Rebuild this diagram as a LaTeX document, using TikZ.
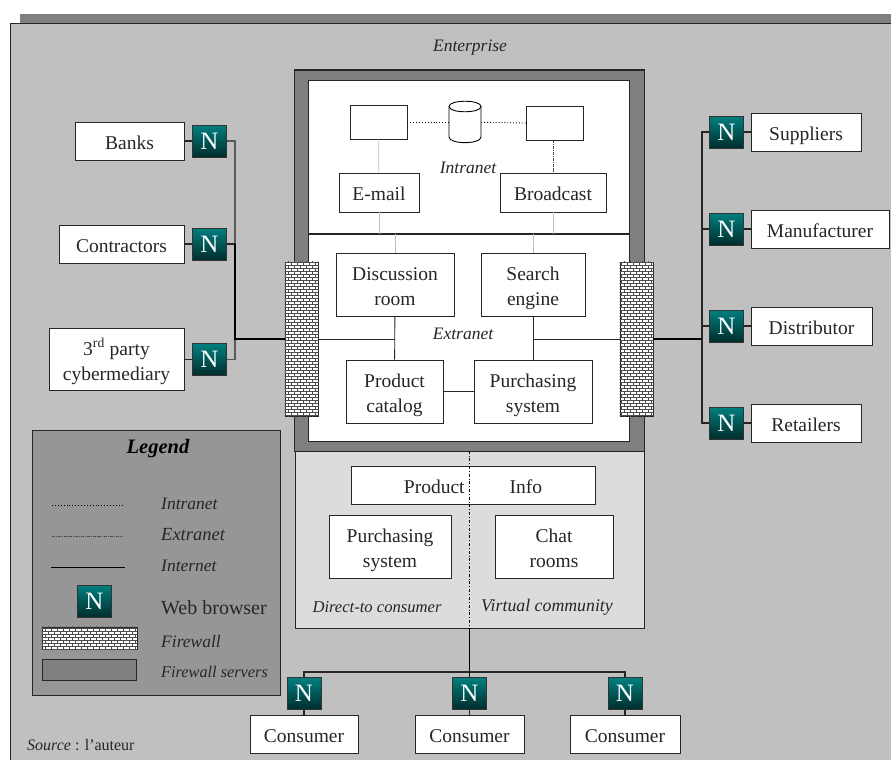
\documentclass[tikz,border=0pt]{standalone}
\usepackage{fontspec}
\setmainfont{Liberation Serif}
\usetikzlibrary{patterns}

\pgfdeclarepatternformonly{fwbricks}{\pgfqpoint{-0.5pt}{-0.5pt}}{\pgfqpoint{6.5pt}{6.5pt}}{\pgfqpoint{6pt}{6pt}}{
    \pgfsetlinewidth{0.6pt}
    \pgfpathmoveto{\pgfqpoint{0pt}{0pt}}\pgfpathlineto{\pgfqpoint{6pt}{0pt}}
    \pgfpathmoveto{\pgfqpoint{0pt}{3pt}}\pgfpathlineto{\pgfqpoint{6pt}{3pt}}
    \pgfpathmoveto{\pgfqpoint{0pt}{0pt}}\pgfpathlineto{\pgfqpoint{0pt}{3pt}}
    \pgfpathmoveto{\pgfqpoint{3pt}{3pt}}\pgfpathlineto{\pgfqpoint{3pt}{6pt}}
    \pgfusepath{stroke}
}

\definecolor{bggray}{HTML}{C0C0C0}
\definecolor{srvgray}{HTML}{808080}
\definecolor{panelgray}{HTML}{DCDCDC}
\definecolor{legendgray}{HTML}{969696}
\definecolor{inkgray}{HTML}{262626}

\tikzset{
    infobox/.style={draw=inkgray,line width=0.9pt,fill=white,text=inkgray,align=center,inner sep=0pt,
        font=\fontsize{19.5}{25}\selectfont,execute at begin node={\rule{0pt}{23pt}},execute at end node={\rule[-7pt]{0pt}{7pt}}},
    twoline/.style={infobox,execute at begin node={\rule{0pt}{48pt}}},
    blankbox/.style={draw=inkgray,line width=0.9pt,fill=white,inner sep=0pt},
    ntile/.style={draw=black!80,line width=0.9pt,top color=teal!100!black,bottom color=teal!35!black,
        text=white,inner sep=0pt,minimum width=34pt,minimum height=32pt,font=\fontsize{25}{25}\selectfont},
    fwall/.style={draw=inkgray,line width=0.7pt,fill=white,inner sep=0pt},
    italabel/.style={text=inkgray,inner sep=0pt,font=\fontsize{17.5}{20}\selectfont\itshape},
    innerline/.style={draw=inkgray,line width=0.9pt},
    netline/.style={draw=inkgray,line width=1.1pt},
    mainline/.style={draw=black,line width=1.6pt},
    sideline/.style={draw=black!65,line width=1.3pt},
    paleline/.style={draw=black!25,line width=0.7pt},
    intraline/.style={draw=black,line width=0.9pt,dotted},
    extraline/.style={draw=black!70,line width=0.8pt,densely dashdotted}
}

\begin{document}
\begin{tikzpicture}[x=1pt,y=-1pt]
    \useasboundingbox (0,0) rectangle (891,760);
    \fill[white] (0,0) rectangle (891,760);

    % page
    \fill[srvgray] (20,14) rectangle (891,25);
    \fill[bggray] (10,24) rectangle (891,760);
    \draw[inkgray,line width=1pt] (10,760) -- (10,24) -- (891,24);
    \node[italabel] (enterprise) at (470,48) {Enterprise};

    % firewall servers and lower panel
    \node[draw=inkgray,line width=1pt,fill=srvgray,minimum width=350pt,minimum height=381pt,inner sep=0pt] (servers) at (469,260.5) {};
    \node[draw=inkgray,line width=1pt,fill=white,minimum width=321pt,minimum height=361pt,inner sep=0pt] (inner) at (468.5,260.5) {};
    \node[draw=inkgray,line width=1pt,fill=panelgray,minimum width=349pt,minimum height=177pt,inner sep=0pt] (lowpanel) at (469.5,539.5) {};
    \coordinate (midl) at (308,234);
    \coordinate (midr) at (629,234);
    \draw[inkgray,line width=1.2pt] (midl) -- (midr);
    \node[fwall,minimum width=33pt,minimum height=154pt] (fwleft) at (301.5,339) {};
    \node[fwall,minimum width=33pt,minimum height=154pt] (fwright) at (636.5,339) {};
    \fill[pattern=fwbricks,pattern color=black!70] (fwleft.south west) rectangle (fwleft.north east);
    \fill[pattern=fwbricks,pattern color=black!70] (fwright.south west) rectangle (fwright.north east);

    % intranet
    \node[blankbox,minimum width=57pt,minimum height=34pt] (mailsrv) at (378.5,122) {};
    \node[blankbox,minimum width=57pt,minimum height=34pt] (castsrv) at (554.5,123) {};
    \node[minimum width=32pt,minimum height=42pt,inner sep=0pt] (database) at (465,122) {};
    \draw[black,line width=0.9pt,fill=white] (449,106.5) .. controls (449,99.5) and (481,99.5) .. (481,106.5)
        -- (481,137) .. controls (481,144.5) and (449,144.5) .. (449,137) -- cycle;
    \draw[black,line width=0.9pt] (449,106.5) .. controls (449,113.5) and (481,113.5) .. (481,106.5);
    \node[infobox,minimum width=80pt,minimum height=39pt] (email) at (379,192.5) {E-mail};
    \node[infobox,minimum width=106pt,minimum height=39pt] (broadcast) at (553,192.5) {Broadcast};
    \node[italabel] (intranet) at (468,168) {Intranet};

    % extranet
    \node[twoline,minimum width=118pt,minimum height=63pt] (discussion) at (395,284.5) {Discussion\\room};
    \node[twoline,minimum width=104pt,minimum height=63pt] (search) at (533,284.5) {Search\\engine};
    \node[twoline,minimum width=97pt,minimum height=63pt] (catalog) at (394.5,391.5) {Product\\catalog};
    \node[twoline,minimum width=118pt,minimum height=63pt] (purchasing) at (533,391.5) {Purchasing\\system};
    \node[italabel] (extranet) at (463,334) {Extranet};
    \coordinate (jextl) at (395,339);
    \coordinate (jextr) at (533,339);

    % lower panel
    \node[infobox,minimum width=244pt,minimum height=38pt] (prodinfo) at (473,485) {Product\hspace{45pt}Info};
    \node[twoline,minimum width=122pt,minimum height=63pt] (purchdirect) at (390,546.5) {Purchasing\\system};
    \node[twoline,minimum width=118pt,minimum height=63pt] (chat) at (554,546.5) {Chat\\rooms};
    \node[italabel,font=\fontsize{16.6}{20}\selectfont\itshape] (direct) at (377,607) {Direct-to consumer};
    \node[italabel,font=\fontsize{17.8}{20}\selectfont\itshape] (virtual) at (547,607) {Virtual community};

    % partners
    \node[infobox,minimum width=109pt,minimum height=38pt] (banks) at (129.5,141) {Banks};
    \node[infobox,minimum width=125pt,minimum height=38pt] (contractors) at (121.5,244) {Contractors};
    \node[twoline,minimum width=135pt,minimum height=62pt] (cyber) at (116.5,359.5) {3\textsuperscript{rd} party\\cybermediary};
    \node[ntile] (nbanks) at (209.5,141) {N};
    \node[ntile] (ncontractors) at (209.5,244) {N};
    \node[ntile] (ncyber) at (209.5,359.5) {N};
    \coordinate (jleft) at (235,339);

    \node[infobox,minimum width=110pt,minimum height=38pt] (suppliers) at (806,132) {Suppliers};
    \node[infobox,minimum width=138pt,minimum height=38pt] (manufacturer) at (820,229) {Manufacturer};
    \node[infobox,minimum width=121pt,minimum height=38pt] (distributor) at (811.5,326) {Distributor};
    \node[infobox,minimum width=110pt,minimum height=38pt] (retailers) at (806,423) {Retailers};
    \node[ntile] (nsuppliers) at (726.5,132) {N};
    \node[ntile] (nmanufacturer) at (726.5,229) {N};
    \node[ntile] (ndistributor) at (726.5,326) {N};
    \node[ntile] (nretailers) at (726.5,423) {N};
    \coordinate (jright) at (702,339);

    % consumers
    \node[infobox,minimum width=108pt,minimum height=38pt] (consa) at (304,734) {Consumer};
    \node[infobox,minimum width=109pt,minimum height=38pt] (consb) at (469.5,734) {Consumer};
    \node[infobox,minimum width=110pt,minimum height=38pt] (consc) at (625,734) {Consumer};
    \node[ntile] (nconsa) at (304,693.5) {N};
    \node[ntile] (nconsb) at (469.5,693.5) {N};
    \node[ntile] (nconsc) at (625,693.5) {N};
    \coordinate (jcons) at (469.5,672);

    % connectors
    \draw[intraline] (mailsrv) -- (database);
    \draw[intraline] (database) -- (castsrv.west);
    \draw[paleline] (mailsrv) -- (email);
    \draw[paleline] (email.south) -- (email.south |- midl);
    \draw[paleline] (broadcast.south) -- (broadcast.south |- midl);
    \draw[paleline] (discussion.north) -- (discussion.north |- midl);
    \draw[paleline] (search.north) -- (search.north |- midl);
    \draw[extraline] (castsrv.south -| broadcast.north) -- (broadcast.north);
    \draw[innerline] (discussion) -- (catalog);
    \draw[innerline] (search) -- (purchasing);
    \draw[innerline] (catalog) -- (purchasing);
    \draw[innerline] (fwleft.east) -- (jextl);
    \draw[innerline] (jextr) -- (fwright.west);
    \draw[black,line width=0.7pt,dashdotted] (lowpanel.north) -- (lowpanel.south);

    \foreach \name/\tile in {banks/nbanks,contractors/ncontractors,cyber/ncyber} {
        \draw[netline] (\name) -- (\tile);
    }
    \draw[sideline] (nbanks.east) -| (jleft);
    \draw[sideline] (ncyber.east) -| (jleft);
    \draw[netline] (ncontractors.east) -| (jleft);
    \draw[mainline] (ncontractors.east -| jleft) -- (jleft) -- (fwleft.west);

    \foreach \name/\tile in {suppliers/nsuppliers,manufacturer/nmanufacturer,distributor/ndistributor,retailers/nretailers} {
        \draw[netline] (\tile) -- (\name);
        \draw[netline,line width=1.3pt] (\tile.west) -| (jright);
    }
    \draw[mainline] (fwright.east) -- (jright);

    \draw[netline] (nconsa.north) |- (jcons) -| (nconsc.north);
    \draw[mainline,line width=1.2pt] (lowpanel.south) -- (nconsb.north);
    \foreach \name/\tile in {consa/nconsa,consb/nconsb,consc/nconsc} {
        \draw[netline] (\tile) -- (\name);
    }

    % legend
    \node[draw=inkgray,line width=1pt,fill=legendgray,minimum width=248pt,minimum height=265pt,inner sep=0pt] (legend) at (156,562.5) {};
    \node[inner sep=0pt,text=black,font=\fontsize{20.5}{22}\selectfont\bfseries\itshape] (legendtitle) at (158,449) {Legend};
    \coordinate (lgintraa) at (52,505);
    \coordinate (lgintrab) at (123,505);
    \coordinate (lgextraa) at (52,536);
    \coordinate (lgextrab) at (123,536);
    \coordinate (lgneta) at (51,567);
    \coordinate (lgnetb) at (125,567);
    \draw[intraline] (lgintraa) -- (lgintrab);
    \draw[extraline] (lgextraa) -- (lgextrab);
    \draw[black,line width=0.9pt] (lgneta) -- (lgnetb);
    \node[ntile] (lgtile) at (94.5,601) {N};
    \node[fwall,minimum width=95pt,minimum height=22pt] (lgfw) at (89.5,638) {};
    \fill[pattern=fwbricks,pattern color=black!70] (lgfw.south west) rectangle (lgfw.north east);
    \node[draw=inkgray,line width=0.9pt,fill=srvgray,minimum width=94pt,minimum height=21pt,inner sep=0pt] (lgsrv) at (89,669.5) {};
    \node[italabel,anchor=west] (lgintra) at (161,504) {Intranet};
    \node[italabel,anchor=west,font=\fontsize{18.5}{20}\selectfont\itshape] (lgextra) at (161,535) {Extranet};
    \node[italabel,anchor=west] (lgnet) at (161,566) {Internet};
    \node[anchor=west,inner sep=0pt,text=inkgray,font=\fontsize{20}{22}\selectfont] (lgweb) at (161,608) {Web browser};
    \node[italabel,anchor=west] (lgfwtext) at (161,642) {Firewall};
    \node[italabel,anchor=west,font=\fontsize{16.3}{20}\selectfont\itshape] (lgsrvtext) at (161,672) {Firewall servers};

    \node[anchor=west,inner sep=0pt,text=inkgray,font=\fontsize{16}{20}\selectfont] (source) at (27,745) {\textit{Source} : l'auteur};
\end{tikzpicture}
\end{document}
